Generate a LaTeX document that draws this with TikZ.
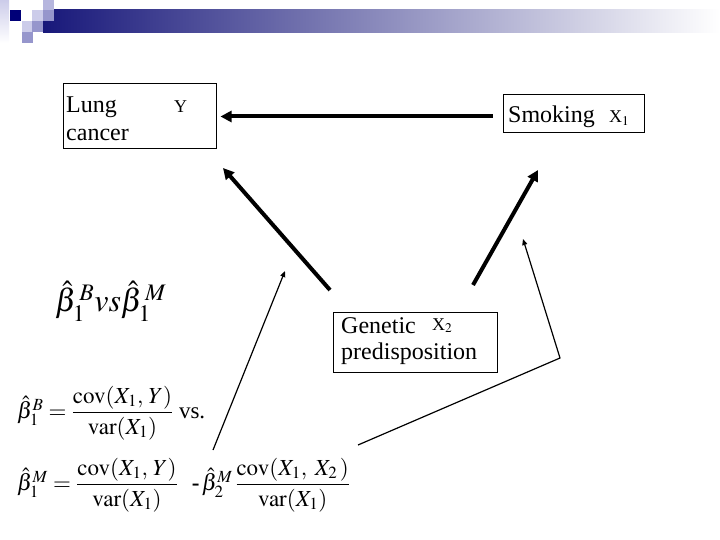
\documentclass[tikz,border=0pt]{standalone}
\usepackage{amsmath}
\usepackage{mathptmx}
\usepackage{fontspec}
\setmainfont{Liberation Serif}
\newfontfamily\slidefont{Liberation Serif}
\usepackage{xcolor}
\usetikzlibrary{arrows.meta, positioning, calc}

\definecolor{barblue}{RGB}{24,24,122}
\definecolor{navy}{RGB}{0,0,120}
\definecolor{lavA}{RGB}{204,204,234}
\definecolor{lavB}{RGB}{150,150,204}
\definecolor{lavC}{RGB}{182,182,222}

\begin{document}
\begin{tikzpicture}[x=1pt,y=-1pt,
  box/.style={draw, line width=1pt, inner sep=0pt},
  txt/.style={inner sep=0pt, font=\slidefont\fontsize{24}{28}\selectfont},
  var/.style={inner sep=0pt, font=\slidefont\fontsize{18}{20}\selectfont},
  eqn/.style={inner sep=0pt, anchor=west, font=\slidefont\fontsize{23}{27}\selectfont},
  bigarrow/.style={line width=4pt, -{Triangle[length=11pt,width=11pt]}},
  thinarrow/.style={line width=1.2pt, -{Triangle[length=6pt,width=5pt]}}]
  \useasboundingbox (0,0) rectangle (720,540);
  % template bar and squares at the top
  \shade[top color=lavA, bottom color=white] (0,0) rectangle (9,43);
  \shade[left color=barblue, right color=white] (43,10) rectangle (720,33);
  \foreach \x/\y/\col in {10/10/navy, 32/10/lavA, 43/0/lavC, 43/10/lavB,
                          22/21/lavA, 32/21/lavB, 22/32/lavB}{
    \fill[\col] (\x,\y) rectangle ++(11,11);
  }
  % the three variables
  \node[box, minimum width=153pt, minimum height=65pt] (lung) at (139.5,116.5) {};
  \node[txt, anchor=base west] (lungtxt) at (66,113) {Lung};
  \node[txt, anchor=base west] (cancertxt) at (66,141) {cancer};
  \node[var, anchor=base west] (ylbl) at (174,113) {Y};
  \node[box, minimum width=141pt, minimum height=38pt] (smoke) at (573.5,114) {};
  \node[txt, anchor=base west] (smoketxt) at (508,123) {Smoking};
  \node[var, anchor=base west] (xonelbl) at (609,123) {X$_1$};
  \node[box, minimum width=164pt, minimum height=60pt] (gene) at (415,342) {};
  \node[txt, anchor=base west] (genetxt) at (341,333) {Genetic};
  \node[txt, anchor=base west] (predtxt) at (341,359) {predisposition};
  \node[var, anchor=base west] (xtwolbl) at (432,330) {X$_2$};
  % estimators
  \node[inner sep=0pt, anchor=west, font=\fontsize{32}{36}\selectfont] (compare)
    at (55,301) {$\hat{\beta}_1^{\,B} vs\hat{\beta}_1^{\,M}$};
  \node[eqn] (bols) at (17,413)
    {$\hat{\beta}_1^{B} = \dfrac{\mathrm{cov}(X_1,\,Y)}{\mathrm{var}(X_1)}$ vs.};
  \node[eqn] (bmult) at (17,485)
    {$\hat{\beta}_1^{M} = \dfrac{\mathrm{cov}(X_1,\,Y)}{\mathrm{var}(X_1)}\hspace{14pt}\text{\bfseries -}\,
      \hat{\beta}_2^{M}\,\dfrac{\mathrm{cov}(X_1,\;X_2\,)}{\mathrm{var}(X_1)}$};
  % causal arrows
  \coordinate (gl-tail) at (330,290); \coordinate (gl-tip) at (223,168);
  \coordinate (gs-tail) at (473,285); \coordinate (gs-tip) at (538,170);
  \draw[bigarrow, shorten <=10pt, shorten >=4pt] (lung.east -| smoke.west) -- (lung.east);
  \draw[bigarrow] (gl-tail) -- (gl-tip);
  \draw[bigarrow] (gs-tail) -- (gs-tip);
  % pointers from the formula
  \coordinate (lt-tail) at (213,450); \coordinate (lt-tip) at (285,271);
  \coordinate (rt-tail) at (358,445); \coordinate (rt-bend) at (560,358);
  \coordinate (rt-tip) at (523,239);
  \draw[thinarrow] (lt-tail) -- (lt-tip);
  \draw[thinarrow] (rt-tail) -- (rt-bend) -- (rt-tip);
\end{tikzpicture}
\end{document}
